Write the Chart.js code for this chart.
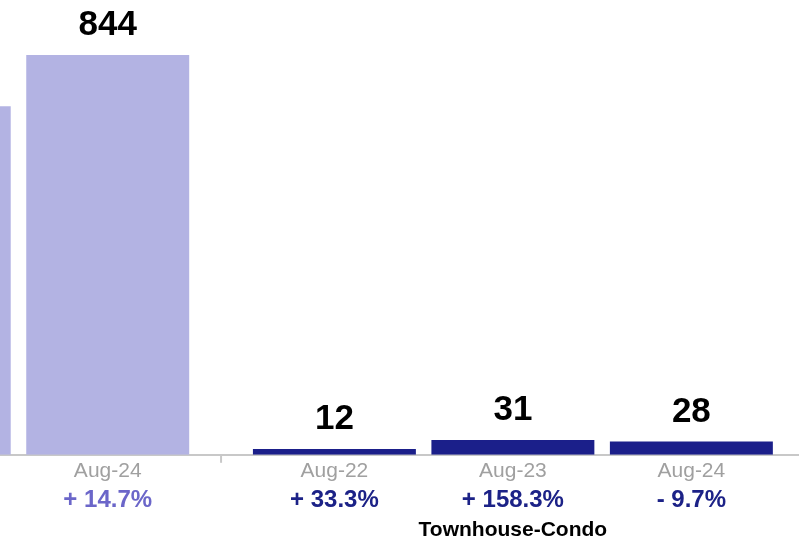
<!DOCTYPE html>
<html>
<head>
<meta charset="utf-8">
<script src="https://cdn.jsdelivr.net/npm/chart.js@4/dist/chart.umd.min.js"></script>
<style>
    html, body { margin: 0; padding: 0; background: #fff; overflow: hidden; }
    #wrap { position: absolute; left: -160px; top: 0; width: 959px; height: 542px; }
</style>
</head>
<body>
<div id="wrap"><canvas id="chart" width="959" height="542"></canvas></div>
<script>
// Single Family (only the right part is in view)
const sfMonths = ['Aug-23', 'Aug-24'];
const sfCounts = [736, 844];
const sfChange = ['', '+ 14.7%'];

// Townhouse-Condo
const tcMonths = ['Aug-22', 'Aug-23', 'Aug-24'];
const tcCounts = [12, 31, 28];
const tcChange = ['+ 33.3%', '+ 158.3%', '- 9.7%'];

const groupTitles = ['', 'Townhouse-Condo'];

// colours
const lightBar = '#b3b3e3';
const darkBar = '#1b1f8a';
const lightText = '#6b66c9';
const darkText = '#1c2287';

// x positions: one unit per bar, a bit of extra room between the groups
const groupGap = 0.27;
const sfX = sfMonths.map((m, i) => i);
const tcX = tcMonths.map((m, i) => sfMonths.length + groupGap + i);
const allX = sfX.concat(tcX);
const allMonths = sfMonths.concat(tcMonths);
const allChange = sfChange.concat(tcChange);
const sepX = (sfX[sfX.length - 1] + tcX[0]) / 2;

const font = 'Liberation Sans, Arial, sans-serif';

function setTicks(scale) {
    scale.ticks = allX.map(v => ({value: v}));
}

// keep the plot area running edge to edge
function noSidePadding(scale) {
    scale.paddingLeft = 0;
    scale.paddingRight = 0;
}

const labelPlugin = {
    id: 'labels',
    afterDatasetsDraw(chart) {
        const ctx = chart.ctx;
        const xs = chart.scales.x;
        const area = chart.chartArea;
        ctx.save();

        // values over the bars
        ctx.font = 'bold 35px ' + font;
        ctx.fillStyle = '#000';
        ctx.textAlign = 'center';
        ctx.textBaseline = 'alphabetic';
        chart.data.datasets.forEach((ds, d) => {
            chart.getDatasetMeta(d).data.forEach((bar, i) => {
                ctx.fillText(ds.data[i].y, bar.x, bar.y - 20);
            });
        });

        // small tick between the groups
        const sx = xs.getPixelForValue(sepX);
        ctx.strokeStyle = '#c8c8c8';
        ctx.lineWidth = 2;
        ctx.beginPath();
        ctx.moveTo(sx, area.bottom);
        ctx.lineTo(sx, area.bottom + 8);
        ctx.stroke();

        // group names
        ctx.font = 'bold 21px ' + font;
        ctx.textBaseline = 'middle';
        const x2 = chart.scales.x2;
        [sfX, tcX].forEach((xsGroup, g) => {
            const mid = (xsGroup[0] + xsGroup[xsGroup.length - 1]) / 2;
            ctx.fillText(groupTitles[g], xs.getPixelForValue(mid), x2.bottom + 18);
        });
        ctx.restore();
    }
};

new Chart(document.getElementById('chart').getContext('2d'), {
    type: 'bar',
    data: {
        datasets: [
            {
                label: 'Single Family',
                data: sfX.map((x, i) => ({x: x, y: sfCounts[i]})),
                backgroundColor: lightBar,
            },
            {
                label: 'Townhouse-Condo',
                data: tcX.map((x, i) => ({x: x, y: tcCounts[i]})),
                backgroundColor: darkBar,
            },
        ],
    },
    options: {
        responsive: false,
        animation: false,
        grouped: false,
        categoryPercentage: 1,
        barPercentage: 0.913,
        layout: {padding: {top: 55, bottom: 30, left: 0, right: 0}},
        plugins: {legend: {display: false}, tooltip: {enabled: false}},
        scales: {
            x: {
                type: 'linear',
                offset: false,
                min: -0.5,
                max: 4.873,
                weight: 0,
                afterBuildTicks: setTicks,
                afterFit: noSidePadding,
                grid: {display: false, drawTicks: false, offset: false},
                border: {color: '#c8c8c8', width: 2},
                ticks: {
                    autoSkip: false,
                    maxRotation: 0,
                    padding: 4,
                    color: '#a0a0a0',
                    font: {family: font, size: 21},
                    callback: (value, index) => allMonths[index],
                },
            },
            x2: {
                type: 'linear',
                position: 'bottom',
                offset: false,
                min: -0.5,
                max: 4.873,
                weight: 1,
                afterBuildTicks: setTicks,
                afterFit: noSidePadding,
                grid: {display: false, drawTicks: false, offset: false},
                border: {display: false},
                ticks: {
                    autoSkip: false,
                    maxRotation: 0,
                    padding: 0,
                    color: (c) => c.index < sfX.length ? lightText : darkText,
                    font: {family: font, size: 24, weight: 'bold', lineHeight: 1},
                    callback: (value, index) => allChange[index],
                },
            },
            y: {
                display: false,
                min: 0,
                max: Math.max(...sfCounts, ...tcCounts),
            },
        },
    },
    plugins: [labelPlugin],
});
</script>
</body>
</html>
